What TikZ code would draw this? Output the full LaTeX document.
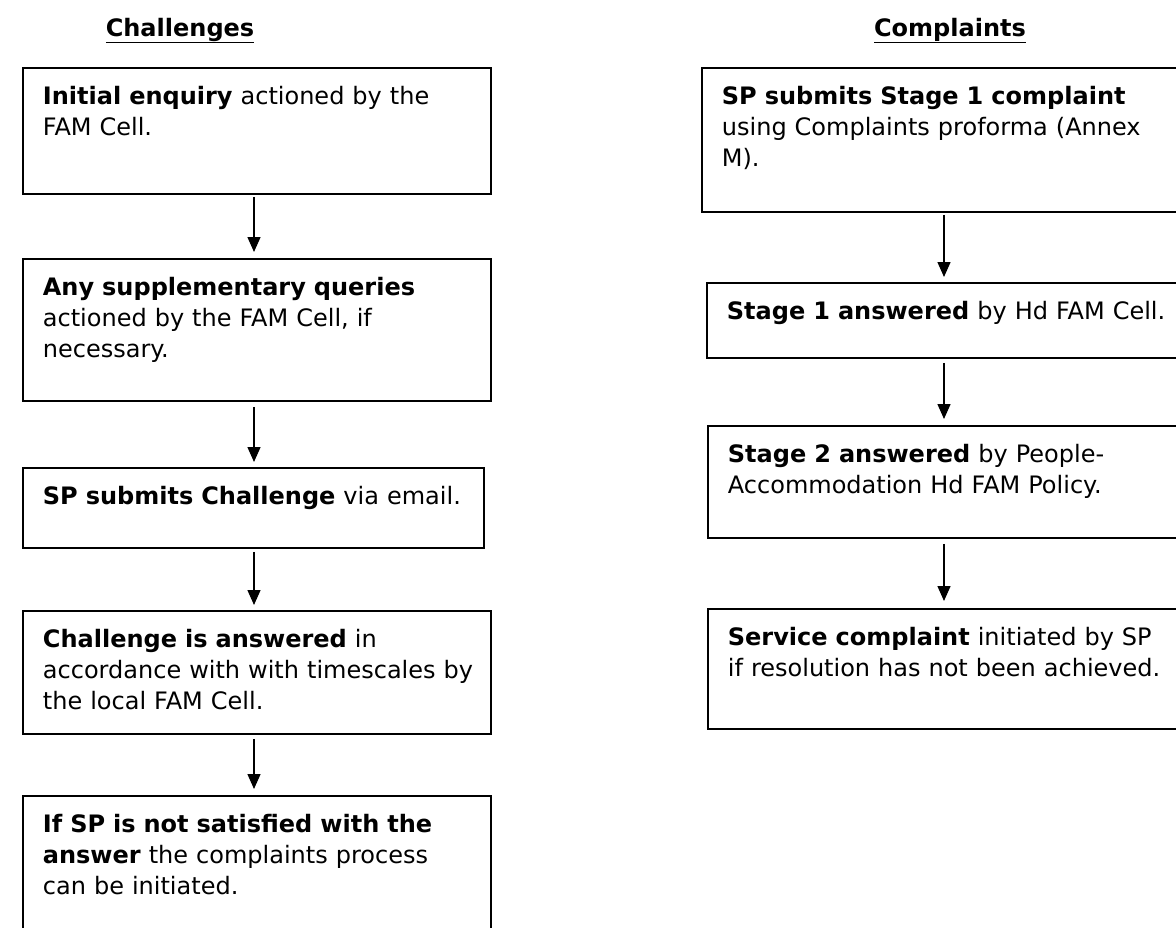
\documentclass[tikz,border=0pt]{standalone}
\usepackage{fontspec}
\setmainfont{DejaVu Sans}
\usepackage{tikz}
\usetikzlibrary{arrows.meta}

\begin{document}
\begin{tikzpicture}[x=1pt, y=-1pt,
    stepbox/.style={shape=rectangle, draw, line width=1.8pt, anchor=north west, align=left,
        inner xsep=20pt, inner ysep=19pt, text height=18pt, font=\fontsize{24}{31}\selectfont},
    head/.style={anchor=base, font=\fontsize{24}{31}\selectfont\bfseries},
    flow/.style={-{Triangle[width=13pt,length=15pt]}, line width=1.4pt}]
            \useasboundingbox (0,0) rectangle (1176,927);
            \clip (0,0) rectangle (1176,927);

            \node [head] (hch) at (180,36) {\underline{Challenges}};
            \node [head] (hco) at (950,36) {\underline{Complaints}};

            % challenges
            \node (l1) [stepbox, text width=428pt, text depth=70pt] at (22,67)
                {\textbf{Initial enquiry} actioned by the\\FAM Cell.};
            \node (l2) [stepbox, text width=428pt, text depth=86pt] at (22,258)
                {\textbf{Any supplementary queries}\\actioned by the FAM Cell, if\\necessary.};
            \node (l3) [stepbox, text width=421pt, text depth=24pt] at (22,467)
                {\textbf{SP submits Challenge} via email.};
            \node (l4) [stepbox, text width=428pt, text depth=67pt] at (22,610)
                {\textbf{Challenge is answered} in\\\mbox{accordance with with timescales by}\\the local FAM Cell.};
            \node (l5) [stepbox, text width=428pt, text depth=94pt] at (22,795)
                {\textbf{If SP is not satisfied with the}\\\textbf{answer} the complaints process\\can be initiated.};

            % complaints
            \node (r1) [stepbox, text width=470pt, text depth=88pt] at (701,67)
                {\textbf{SP submits Stage 1 complaint}\\using Complaints proforma (Annex\\M).};
            \node (r2) [stepbox, text width=470pt, text depth=19pt] at (706,282)
                {\textbf{Stage 1 answered} by Hd FAM Cell.};
            \node (r3) [stepbox, text width=470pt, text depth=56pt] at (707,425)
                {\textbf{Stage 2 answered} by People-\\Accommodation Hd FAM Policy.};
            \node (r4) [stepbox, text width=470pt, text depth=64pt] at (707,608)
                {\textbf{Service complaint} initiated by SP\\if resolution has not been achieved.};

            \coordinate (lx) at (254,0);
            \coordinate (rx) at (944,0);

            \draw[flow] ([yshift=-2pt]l1.south -| lx) -- ([yshift=6pt]l2.north -| lx);
            \draw[flow] ([yshift=-5pt]l2.south -| lx) -- ([yshift=5pt]l3.north -| lx);
            \draw[flow] ([yshift=-3pt]l3.south -| lx) -- ([yshift=5pt]l4.north -| lx);
            \draw[flow] ([yshift=-4pt]l4.south -| lx) -- ([yshift=6pt]l5.north -| lx);

            \draw[flow] ([yshift=-2pt]r1.south -| rx) -- ([yshift=5pt]r2.north -| rx);
            \draw[flow] ([yshift=-4pt]r2.south -| rx) -- ([yshift=6pt]r3.north -| rx);
            \draw[flow] ([yshift=-5pt]r3.south -| rx) -- ([yshift=7pt]r4.north -| rx);
\end{tikzpicture}
\end{document}
